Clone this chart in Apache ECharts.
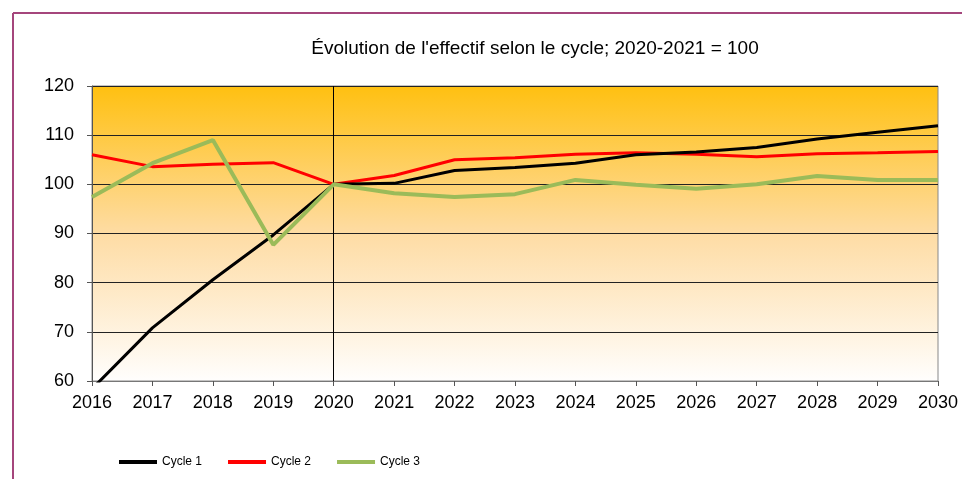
<!DOCTYPE html>
<html>
<head>
<meta charset="utf-8">
<script src="https://cdn.jsdelivr.net/npm/echarts@6/dist/echarts.min.js"></script>
<style>
  html, body { margin: 0; padding: 0; background: #fff; }
  #chart { width: 962px; height: 479px; }
</style>
</head>
<body>
<div id="chart"></div>
<script>
const years = ['2016', '2017', '2018', '2019', '2020', '2021', '2022', '2023', '2024', '2025', '2026', '2027', '2028', '2029', '2030']
const cycle1 = [58.4, 70.8, 80.6, 89.7, 100, 100.2, 102.8, 103.4, 104.3, 106.0, 106.6, 107.5, 109.2, 110.6, 111.9]
const cycle2 = [106.0, 103.6, 104.1, 104.4, 100, 101.8, 105.0, 105.4, 106.1, 106.4, 106.1, 105.6, 106.2, 106.4, 106.7]
const cycle3 = [97.4, 104.3, 109.0, 87.7, 100, 98.2, 97.4, 98.0, 100.9, 99.9, 99.1, 100.0, 101.7, 100.9, 100.9]

const myChart = echarts.init(document.getElementById('chart'))

const option = {
  animation: false,
  textStyle: { fontFamily: 'Liberation Sans, Arial, sans-serif' },
  title: {
    text: "Évolution de l'effectif selon le cycle; 2020-2021 = 100",
    left: 530,
    top: 34,
    textAlign: 'center',
    textStyle: { fontSize: 19, fontWeight: 'normal', color: '#000' }
  },
  graphic: [
    { type: 'line', shape: { x1: 13, y1: 13, x2: 962, y2: 13 }, style: { stroke: '#a5467c', lineWidth: 2 } },
    { type: 'line', shape: { x1: 13, y1: 13, x2: 13, y2: 479 }, style: { stroke: '#a5467c', lineWidth: 2 } }
  ],
  grid: {
    left: 92,
    right: 24,
    top: 86,
    bottom: 98,
    show: true,
    borderColor: '#888',
    borderWidth: 1,
    backgroundColor: new echarts.graphic.LinearGradient(0, 0, 0, 1, [
      { offset: 0, color: '#ffc010' },
      { offset: 0.5, color: '#fedca4' },
      { offset: 1, color: '#fffefd' }
    ])
  },
  legend: {
    left: 114,
    top: 451,
    itemWidth: 38,
    itemHeight: 4,
    itemGap: 26,
    icon: 'rect',
    textStyle: { fontSize: 12, color: '#000' },
    data: ['Cycle 1', 'Cycle 2', 'Cycle 3']
  },
  xAxis: {
    type: 'category',
    data: years,
    boundaryGap: false,
    axisLine: { lineStyle: { color: '#777' } },
    axisTick: { show: true, length: 5, lineStyle: { color: '#555' } },
    axisLabel: { fontSize: 18, color: '#000', margin: 13 },
    splitLine: { show: false }
  },
  yAxis: {
    type: 'value',
    min: 60,
    max: 120,
    interval: 10,
    axisLine: { show: true, lineStyle: { color: '#555' } },
    axisTick: { show: true, length: 5, lineStyle: { color: '#555' } },
    axisLabel: { fontSize: 18, color: '#000', margin: 18 },
    splitLine: { lineStyle: { color: '#222', width: 1 } }
  },
  series: [
    {
      name: 'Cycle 1',
      type: 'line',
      data: cycle1,
      symbol: 'none',
      clip: true,
      color: '#000',
      lineStyle: { width: 3, color: '#000' },
      z: 4,
      markLine: {
        silent: true,
        symbol: 'none',
        label: { show: false },
        lineStyle: { color: '#000', width: 1, type: 'solid' },
        data: [{ xAxis: '2020' }]
      }
    },
    {
      name: 'Cycle 2',
      type: 'line',
      data: cycle2,
      symbol: 'none',
      color: '#ff0000',
      lineStyle: { width: 3, color: '#ff0000' },
      z: 3
    },
    {
      name: 'Cycle 3',
      type: 'line',
      data: cycle3,
      symbol: 'none',
      color: '#9bbb59',
      lineStyle: { width: 4, color: '#9bbb59' },
      z: 5
    }
  ]
}

myChart.setOption(option)
</script>
</body>
</html>
